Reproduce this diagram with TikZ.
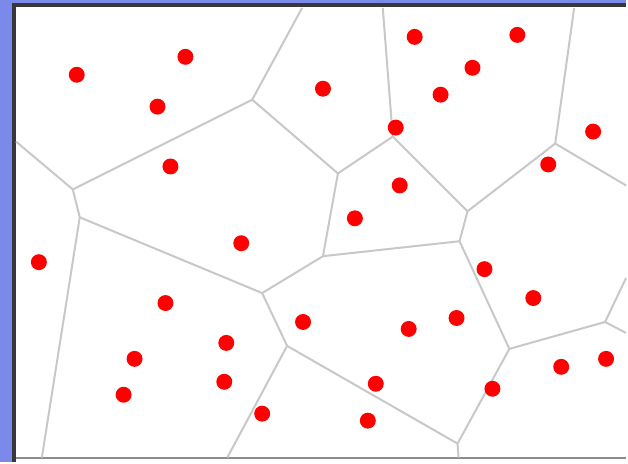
\documentclass[tikz,border=0pt]{standalone}
\usetikzlibrary{positioning}
\definecolor{frameblue}{RGB}{123,137,235}
\definecolor{cellgray}{RGB}{200,200,200}
\definecolor{framedark}{RGB}{55,55,60}

\begin{document}
\begin{tikzpicture}[x=1pt, y=-1pt,
    site/.style={circle, fill=red, inner sep=0pt, minimum size=16pt},
    cell/.style={draw=cellgray, line width=2pt, line join=round}]
  % frame
  \fill[frameblue] (0,0) rectangle (628,463);
  \fill[white] (14,6) rectangle (628,463);
  \draw[framedark, line width=4pt] (14,463) -- (14,5.5) -- (628,5.5);
  \draw[cellgray!70!black, line width=1.5pt] (16,459.5) -- (628,459.5);

  % voronoi vertices
  \coordinate (v1) at (253,100);
  \coordinate (v2) at (73,190);
  \coordinate (v3) at (80,218);
  \coordinate (v4) at (263,294);
  \coordinate (v5) at (339,174);
  \coordinate (v6) at (394,137);
  \coordinate (v7) at (469,212);
  \coordinate (v8) at (324,257);
  \coordinate (v9) at (461,242);
  \coordinate (v10) at (557,144);
  \coordinate (v11) at (511,350);
  \coordinate (v12) at (607,323);
  \coordinate (v13) at (459,445);
  \coordinate (v14) at (288,347);
  % ends on the frame
  \coordinate (t1) at (303,8);
  \coordinate (t2) at (384,8);
  \coordinate (t3) at (576,8);
  \coordinate (l1) at (16,142);
  \coordinate (b1) at (42,459);
  \coordinate (b2) at (228,459);
  \coordinate (b3) at (460,459);
  \coordinate (r1) at (628,186);
  \coordinate (r2) at (628,279);
  \coordinate (r3) at (628,334);

  % cell edges
  \draw[cell] (t1) -- (v1) -- (v2) -- (l1);
  \draw[cell] (v2) -- (v3) -- (b1);
  \draw[cell] (v3) -- (v4) -- (v8) -- (v5) -- (v1);
  \draw[cell] (v5) -- (v6) -- (t2);
  \draw[cell] (v6) -- (v7) -- (v10) -- (t3);
  \draw[cell] (v10) -- (r1);
  \draw[cell] (v8) -- (v9) -- (v7);
  \draw[cell] (v9) -- (v11) -- (v12) -- (r2);
  \draw[cell] (v12) -- (r3);
  \draw[cell] (v11) -- (v13) -- (b3);
  \draw[cell] (v13) -- (v14) -- (v4);
  \draw[cell] (v14) -- (b2);

  % sites
  \foreach \name/\px/\py in {
      s1/77/75, s2/186/57, s3/158/107, s4/171/167,
      s5/324/89, s6/416/37, s7/474/68, s8/519/35,
      s9/442/95, s10/397/128, s11/595/132, s12/550/165,
      s13/401/186, s14/356/219, s15/242/244, s16/39/263,
      s17/486/270, s18/535/299, s19/166/304, s20/304/323,
      s21/410/330, s22/458/319, s23/227/344, s24/135/360,
      s25/225/383, s26/124/396, s27/377/385, s28/563/368,
      s29/608/360, s30/494/390, s31/263/415, s32/369/422}
    \node[site] (\name) at (\px,\py) {};
\end{tikzpicture}
\end{document}
